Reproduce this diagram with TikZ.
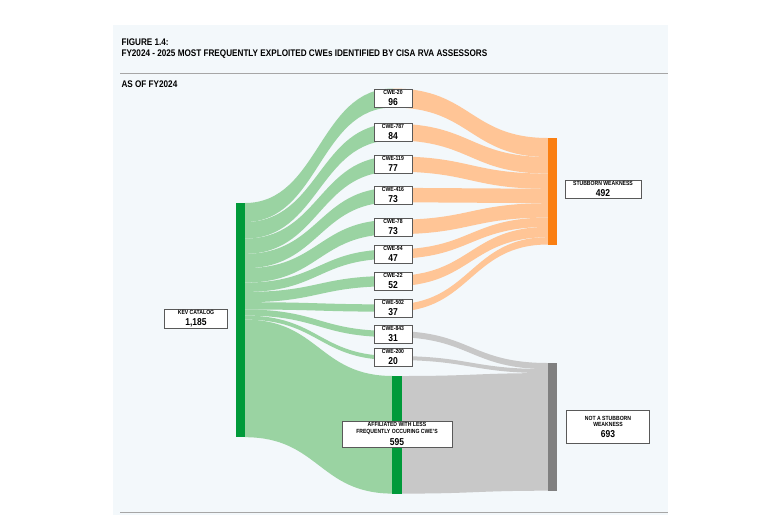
\documentclass[tikz,border=0pt]{standalone}
\usepackage{fontspec}
\setmainfont{Liberation Sans}[FakeStretch=0.85]
\definecolor{bg}{HTML}{F3F8FB}
\definecolor{lgreen}{HTML}{9AD3A2}
\definecolor{dgreen}{HTML}{009A3A}
\definecolor{lorange}{HTML}{FFC596}
\definecolor{dorange}{HTML}{FA7F12}
\definecolor{lgrey}{HTML}{C8C8C8}
\definecolor{dgrey}{HTML}{808080}
\newcommand\myband[7]{\fill[#1] (#2,#3) .. controls ({(#2+#5)/2},#3) and ({(#2+#5)/2},#6) .. (#5,#6) -- (#5,#7) .. controls ({(#2+#5)/2},#7) and ({(#2+#5)/2},#4) .. (#2,#4) -- cycle;}
\newcommand\bignum[1]{\\[2.8pt]{\fontsize{10}{10}\selectfont #1}}
\begin{document}
\begin{tikzpicture}[x=1pt,y=-1pt,
  box/.style={draw=black!65,fill=white,line width=0.6pt,align=center,inner sep=1.5pt,font=\bfseries\fontsize{6}{6.5}\selectfont},
  ttl/.style={anchor=west,font=\bfseries\fontsize{9.6}{11}\selectfont}]
\useasboundingbox (0,0) rectangle (768,515);
\fill[bg] (113,25) rectangle (668,515);
\node[ttl] (t1) at (118,42) {FIGURE 1.4:};
\node[ttl] (t2) at (118,54) {FY2024 - 2025 MOST FREQUENTLY EXPLOITED CWEs IDENTIFIED BY CISA RVA ASSESSORS};
\draw[black!35,line width=0.8pt] (120,73) -- (668,73);
\node[ttl] (t3) at (118,84) {AS OF FY2024};
\draw[black!35,line width=0.8pt] (120,512) -- (668,512);
% green bands
\myband{lgreen}{245}{203}{222}{393}{88.5}{107.5}
\myband{lgreen}{245}{222}{238.6}{393}{123.7}{140.3}
\myband{lgreen}{245}{238.6}{253.8}{393}{156.4}{171.6}
\myband{lgreen}{245}{253.8}{268.2}{393}{187.8}{202.2}
\myband{lgreen}{245}{268.2}{282.6}{393}{219.8}{234.2}
\myband{lgreen}{245}{282.6}{291.9}{393}{249.4}{258.7}
\myband{lgreen}{245}{291.9}{302.2}{393}{275.9}{286.2}
\myband{lgreen}{245}{302.2}{309.5}{393}{304.4}{311.7}
\myband{lgreen}{245}{309.5}{315.6}{393}{331}{337.1}
\myband{lgreen}{245}{315.6}{319.6}{393}{356}{360}
\myband{lgreen}{245}{319.6}{437.2}{393}{376}{493.6}
% orange bands
\myband{lorange}{393}{88.5}{107.5}{548}{138}{157}
\myband{lorange}{393}{123.7}{140.3}{548}{157}{173.6}
\myband{lorange}{393}{156.4}{171.6}{548}{173.6}{188.8}
\myband{lorange}{393}{187.8}{202.2}{548}{188.8}{203.2}
\myband{lorange}{393}{219.8}{234.2}{548}{203.2}{217.6}
\myband{lorange}{393}{249.4}{258.7}{548}{217.6}{226.9}
\myband{lorange}{393}{275.9}{286.2}{548}{226.9}{237.2}
\myband{lorange}{393}{304.4}{311.7}{548}{237.2}{244.5}
% grey bands
\myband{lgrey}{393}{331}{337.1}{548}{363}{369.1}
\myband{lgrey}{393}{356}{360}{548}{369.1}{373.1}
\myband{lgrey}{402}{376}{493.6}{548}{373.1}{490.7}
% bars
\fill[dgreen] (236,203) rectangle (245,437.2);
\fill[dgreen] (392,376) rectangle (402,493.6);
\fill[dorange] (548,138) rectangle (557,244.5);
\fill[dgrey] (548,363) rectangle (557,490.7);
% nodes
\node[box,minimum width=38pt] (c20) at (393,98) {CWE-20\bignum{96}};
\node[box,minimum width=38pt] (c787) at (393,132) {CWE-787\bignum{84}};
\node[box,minimum width=38pt] (c119) at (393,164) {CWE-119\bignum{77}};
\node[box,minimum width=38pt] (c416) at (393,195) {CWE-416\bignum{73}};
\node[box,minimum width=38pt] (c78) at (393,227) {CWE-78\bignum{73}};
\node[box,minimum width=38pt] (c94) at (393,254) {CWE-94\bignum{47}};
\node[box,minimum width=38pt] (c22) at (393,281) {CWE-22\bignum{52}};
\node[box,minimum width=38pt] (c502) at (393,308) {CWE-502\bignum{37}};
\node[box,minimum width=38pt] (c843) at (393,334) {CWE-843\bignum{31}};
\node[box,minimum width=38pt] (c200) at (393,357) {CWE-200\bignum{20}};
\node[box,minimum width=63pt] (kev) at (196,319) {KEV CATALOG\bignum{1,185}};
\node[box,minimum width=110pt] (aff) at (397,434) {AFFILIATED WITH LESS\\FREQUENTLY OCCURING CWE'S\bignum{595}};
\node[box,minimum width=76pt] (sw) at (603,189) {STUBBORN WEAKNESS\bignum{492}};
\node[box,minimum width=83pt,minimum height=33pt] (nsw) at (608,427) {NOT A STUBBORN\\WEAKNESS\bignum{693}};
\end{tikzpicture}
\end{document}
